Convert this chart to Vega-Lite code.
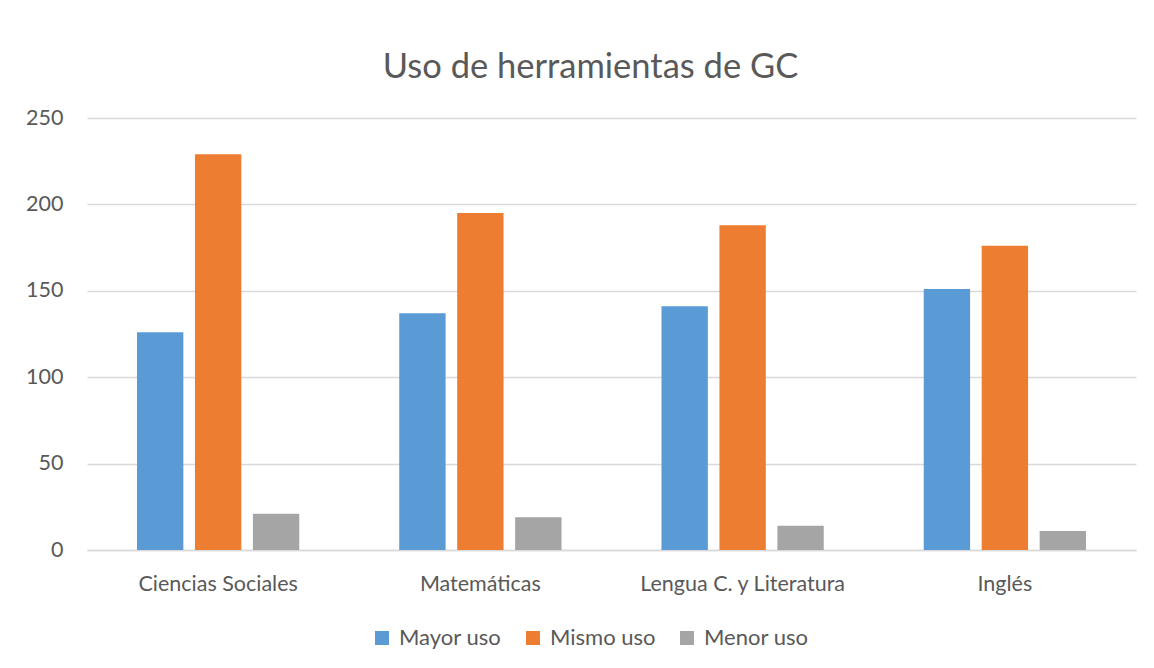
{
  "$schema": "https://vega.github.io/schema/vega-lite/v6.json",
  "autosize": "none",
  "width": 1049,
  "height": 432,
  "padding": {"left": 87, "top": 118, "right": 18, "bottom": 118},
  "background": "white",
  "title": {
    "text": "Uso de herramientas de GC",
    "font": "Lato",
    "fontSize": 34.5,
    "fontWeight": "normal",
    "color": "#595959",
    "offset": 22,
    "dx": -21
  },
  "data": {
    "values": [
      {"materia": "Ciencias Sociales", "serie": "Mayor uso", "valor": 126},
      {"materia": "Ciencias Sociales", "serie": "Mismo uso", "valor": 229},
      {"materia": "Ciencias Sociales", "serie": "Menor uso", "valor": 21},
      {"materia": "Matemáticas", "serie": "Mayor uso", "valor": 137},
      {"materia": "Matemáticas", "serie": "Mismo uso", "valor": 195},
      {"materia": "Matemáticas", "serie": "Menor uso", "valor": 19},
      {"materia": "Lengua C. y Literatura", "serie": "Mayor uso", "valor": 141},
      {"materia": "Lengua C. y Literatura", "serie": "Mismo uso", "valor": 188},
      {"materia": "Lengua C. y Literatura", "serie": "Menor uso", "valor": 14},
      {"materia": "Inglés", "serie": "Mayor uso", "valor": 151},
      {"materia": "Inglés", "serie": "Mismo uso", "valor": 176},
      {"materia": "Inglés", "serie": "Menor uso", "valor": 11}
    ]
  },
  "mark": {"type": "bar"},
  "encoding": {
    "x": {
      "field": "materia",
      "type": "nominal",
      "sort": ["Ciencias Sociales", "Matemáticas", "Lengua C. y Literatura", "Inglés"],
      "scale": {"paddingInner": 0.337, "paddingOuter": 0.1685},
      "axis": {
        "title": null,
        "labelAngle": 0,
        "labelFont": "Lato",
        "labelFontSize": 21.5,
        "labelColor": "#595959",
        "labelPadding": 23,
        "labelLimit": 0,
        "ticks": false,
        "tickSize": 0,
        "domain": true,
        "domainColor": "#D9D9D9",
        "domainWidth": 1.5,
        "grid": false
      }
    },
    "xOffset": {
      "field": "serie",
      "type": "nominal",
      "sort": ["Mayor uso", "Mismo uso", "Menor uso"],
      "scale": {"paddingInner": 0.2, "paddingOuter": 0.1}
    },
    "y": {
      "field": "valor",
      "type": "quantitative",
      "scale": {"domain": [0, 250]},
      "axis": {
        "title": null,
        "values": [0, 50, 100, 150, 200, 250],
        "labelFont": "Lato",
        "labelFontSize": 21.5,
        "labelColor": "#595959",
        "labelPadding": 24,
        "ticks": false,
        "tickSize": 0,
        "domain": false,
        "grid": true,
        "gridColor": "#D9D9D9",
        "gridWidth": 1.5
      }
    },
    "color": {
      "field": "serie",
      "type": "nominal",
      "sort": ["Mayor uso", "Mismo uso", "Menor uso"],
      "scale": {
        "domain": ["Mayor uso", "Mismo uso", "Menor uso"],
        "range": ["#5B9BD5", "#ED7D31", "#A5A5A5"]
      },
      "legend": {
        "title": null,
        "orient": "none",
        "legendX": 284,
        "legendY": 509,
        "direction": "horizontal",
        "symbolType": "square",
        "symbolSize": 196,
        "symbolStrokeWidth": 0,
        "labelFont": "Lato",
        "labelFontSize": 22,
        "labelColor": "#595959",
        "labelOffset": 6,
        "columnPadding": 20
      }
    }
  },
  "config": {
    "view": {"stroke": null}
  }
}
